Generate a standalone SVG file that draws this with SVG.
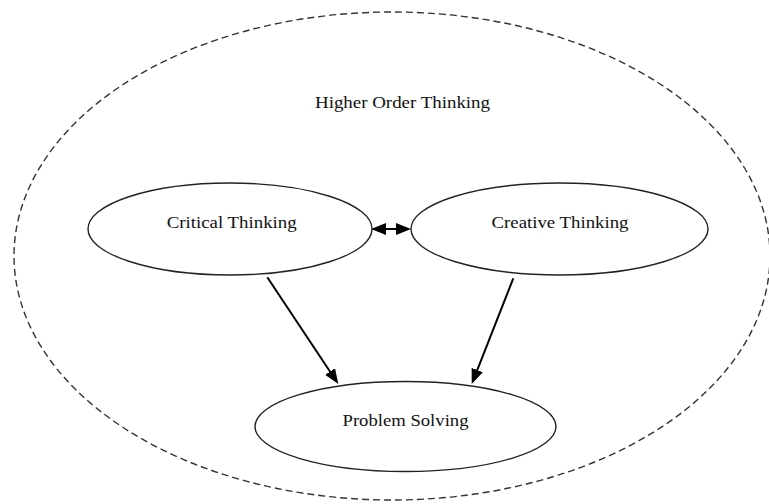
<svg xmlns="http://www.w3.org/2000/svg" width="769" height="504" viewBox="0 0 769 504">
<defs>
<style>
.node{fill:#fff;stroke:#222;stroke-width:1.4}
.lbl{font-family:"Liberation Serif","Times New Roman",serif;font-size:16px;fill:#111;text-anchor:middle}
.conn{stroke:#000;stroke-width:2;fill:none}
</style>
<marker id="ah" markerUnits="userSpaceOnUse" markerWidth="16" markerHeight="14" refX="11" refY="6" orient="auto-start-reverse" viewBox="0 0 16 14">
<path d="M0,0 L15,6 L0,12 z" fill="#000"/>
</marker>
</defs>
<rect width="769" height="504" fill="#fff"/>
<g id="outer">
<ellipse cx="392" cy="256" rx="378" ry="244" fill="none" stroke="#333" stroke-width="1.4" stroke-dasharray="7,4"/>
<text class="lbl" x="402.5" y="108" textLength="175" lengthAdjust="spacingAndGlyphs">Higher Order Thinking</text>
</g>
<g id="critical">
<ellipse class="node" cx="230" cy="229" rx="142" ry="46"/>
<text class="lbl" x="231.7" y="228" textLength="130" lengthAdjust="spacingAndGlyphs">Critical Thinking</text>
</g>
<g id="creative">
<ellipse class="node" cx="559.5" cy="229" rx="148.5" ry="46"/>
<text class="lbl" x="560" y="228" textLength="137" lengthAdjust="spacingAndGlyphs">Creative Thinking</text>
</g>
<g id="problem">
<ellipse class="node" cx="405.5" cy="426.5" rx="150.5" ry="45"/>
<text class="lbl" x="405.5" y="426" textLength="126" lengthAdjust="spacingAndGlyphs">Problem Solving</text>
</g>
<g id="connectors">
<line class="conn" x1="375" y1="229" x2="407" y2="229" marker-start="url(#ah)" marker-end="url(#ah)"/>
<line class="conn" x1="267.3" y1="277.3" x2="336.1" y2="380.7" marker-end="url(#ah)"/>
<line class="conn" x1="513.3" y1="278.3" x2="473.2" y2="380.3" marker-end="url(#ah)"/>
</g>
</svg>
